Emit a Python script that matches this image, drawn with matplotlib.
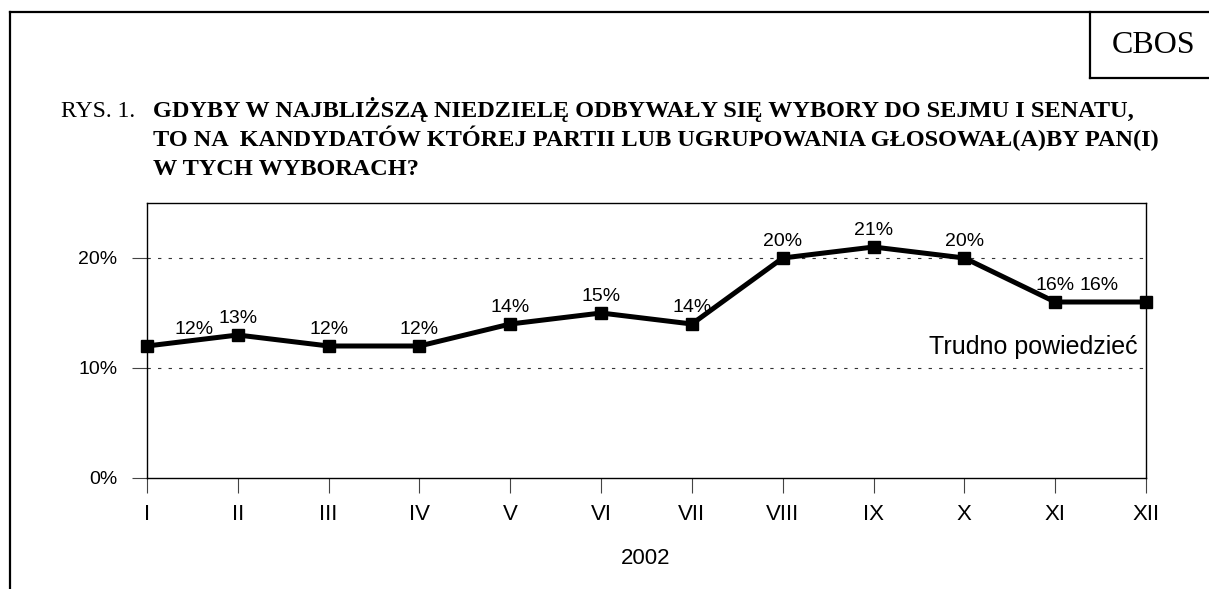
import matplotlib.pyplot as plt
from matplotlib.lines import Line2D

W, H = 1209, 589

months = ['I', 'II', 'III', 'IV', 'V', 'VI', 'VII', 'VIII', 'IX', 'X', 'XI', 'XII']
trudno = [12, 13, 12, 12, 14, 15, 14, 20, 21, 20, 16, 16]
# horizontal shift of each value label (pixels), most sit right above the point
label_dx = [47, 0, 0, 0, 0, 0, 0, 0, 0, 0, 0, -47]
y_ticks = [0, 10, 20]
y_ticklabels = ['0%', '10%', '20%']

title_lines = ['GDYBY W NAJBLIŻSZĄ NIEDZIELĘ ODBYWAŁY SIĘ WYBORY DO SEJMU I SENATU,',
               'TO NA  KANDYDATÓW KTÓREJ PARTII LUB UGRUPOWANIA GŁOSOWAŁ(A)BY PAN(I)',
               'W TYCH WYBORACH?']

plt.rcParams['font.family'] = ['Liberation Sans', 'DejaVu Sans']


def fx(px):
    return px / W


def fy(py):
    return 1 - py / H


fig = plt.figure(figsize=(W / 100, H / 100), dpi=100)
ax = fig.add_axes([fx(147), fy(478), fx(1146) - fx(147), fy(203) - fy(478)])

x = list(range(len(months)))
ax.plot(x, trudno, color='black', lw=3.6, marker='s', ms=8.5, clip_on=False, zorder=5)

for xi, v, dx in zip(x, trudno, label_dx):
    ax.annotate(f'{v}%', (xi, v), xytext=(dx, 12), textcoords='offset pixels',
                ha='center', va='baseline', fontsize=14)

ax.text(1.0 - 8 / 999, 11.27, 'Trudno powiedzieć', transform=ax.get_yaxis_transform(),
        ha='right', va='baseline', fontsize=18)

ax.set_xlim(0, 11)
ax.set_ylim(0, 25)
ax.set_xticks(x)
ax.set_xticklabels(months)
ax.set_yticks(y_ticks)
ax.set_yticklabels(y_ticklabels)
ax.tick_params(axis='both', length=10.5, width=0.8, color='#444444')
ax.tick_params(axis='x', labelsize=16, pad=8)
ax.tick_params(axis='y', labelsize=14, pad=11)
for yv in [10, 20]:
    ax.axhline(yv, color='#333333', lw=0.8, ls=(0, (3, 6.5)), zorder=1)
for s in ax.spines.values():
    s.set_linewidth(1.0)

fig.text(fx(646), fy(558), '2002', ha='center', va='center', fontsize=16)

# outer frame and the CBOS box
frame_kw = dict(color='black', lw=1.6, transform=fig.transFigure)
fig.add_artist(Line2D([fx(10), 1], [fy(12), fy(12)], **frame_kw))
fig.add_artist(Line2D([fx(10), fx(10)], [fy(12), 0], **frame_kw))
fig.add_artist(Line2D([fx(1090), fx(1090)], [fy(12), fy(78)], **frame_kw))
fig.add_artist(Line2D([fx(1090), 1], [fy(78), fy(78)], **frame_kw))
fig.text(fx(1154), fy(53), 'CBOS', ha='center', va='baseline', fontsize=23,
         family='Liberation Serif')

fig.text(fx(61), fy(117), 'RYS. 1.', ha='left', va='baseline', fontsize=17,
         family='Liberation Serif')
for i, line in enumerate(title_lines):
    fig.text(fx(153), fy(117 + 29 * i), line, ha='left', va='baseline', fontsize=17.5,
             family='Liberation Serif', weight='bold')

fig.savefig('out.png', dpi=100)
